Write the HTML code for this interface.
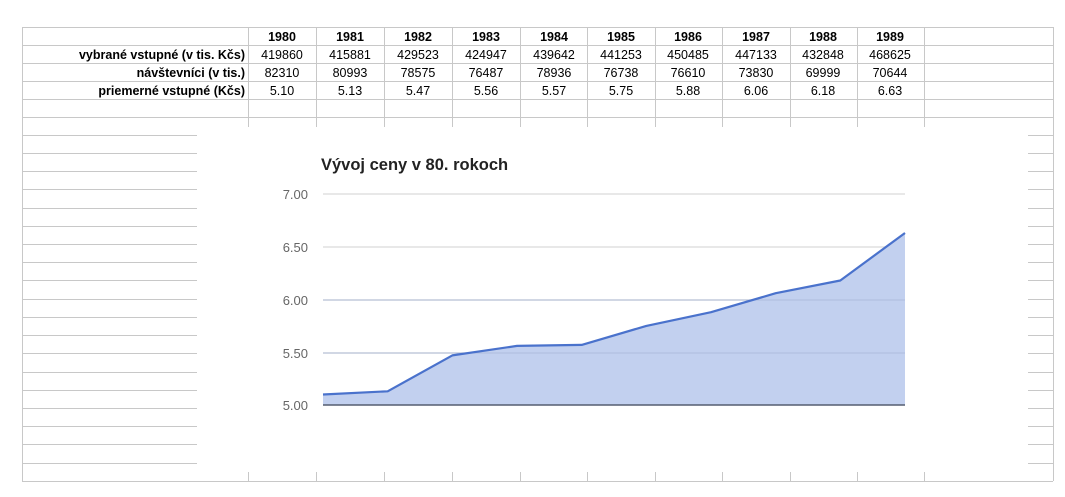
<!DOCTYPE html>
<html><head><meta charset="utf-8"><style>
html,body{margin:0;padding:0;background:#fff;}
svg{display:block;font-family:"Liberation Sans",Arial,sans-serif;}
</style></head><body>
<svg width="1065" height="497" viewBox="0 0 1065 497" xmlns="http://www.w3.org/2000/svg">
<g stroke="#c8c8c8" stroke-width="1" shape-rendering="crispEdges">
<!-- table rows full width -->
<line x1="22" y1="27.5" x2="1053" y2="27.5"/>
<line x1="22" y1="45.5" x2="1053" y2="45.5"/>
<line x1="22" y1="63.5" x2="1053" y2="63.5"/>
<line x1="22" y1="81.5" x2="1053" y2="81.5"/>
<line x1="22" y1="99.5" x2="1053" y2="99.5"/>
<line x1="22" y1="117.5" x2="1053" y2="117.5"/>
<!-- verticals -->
<line x1="22.5" y1="27" x2="22.5" y2="481"/>
<line x1="1053.5" y1="27" x2="1053.5" y2="481"/>
<line x1="248.5" y1="27" x2="248.5" y2="127"/>
<line x1="316.5" y1="27" x2="316.5" y2="127"/>
<line x1="384.5" y1="27" x2="384.5" y2="127"/>
<line x1="452.5" y1="27" x2="452.5" y2="127"/>
<line x1="520.5" y1="27" x2="520.5" y2="127"/>
<line x1="587.5" y1="27" x2="587.5" y2="127"/>
<line x1="655.5" y1="27" x2="655.5" y2="127"/>
<line x1="722.5" y1="27" x2="722.5" y2="127"/>
<line x1="790.5" y1="27" x2="790.5" y2="127"/>
<line x1="857.5" y1="27" x2="857.5" y2="127"/>
<line x1="924.5" y1="27" x2="924.5" y2="127"/>
<line x1="248.5" y1="472" x2="248.5" y2="481"/>
<line x1="316.5" y1="472" x2="316.5" y2="481"/>
<line x1="384.5" y1="472" x2="384.5" y2="481"/>
<line x1="452.5" y1="472" x2="452.5" y2="481"/>
<line x1="520.5" y1="472" x2="520.5" y2="481"/>
<line x1="587.5" y1="472" x2="587.5" y2="481"/>
<line x1="655.5" y1="472" x2="655.5" y2="481"/>
<line x1="722.5" y1="472" x2="722.5" y2="481"/>
<line x1="790.5" y1="472" x2="790.5" y2="481"/>
<line x1="857.5" y1="472" x2="857.5" y2="481"/>
<line x1="924.5" y1="472" x2="924.5" y2="481"/>
<line x1="22" y1="481.5" x2="1053" y2="481.5"/>
<!-- side stubs -->
<path d="M22 135.5H197M22 153.5H197M22 171.5H197M22 189.5H197M22 208.5H197M22 226.5H197M22 244.5H197M22 262.5H197M22 280.5H197M22 299.5H197M22 317.5H197M22 335.5H197M22 353.5H197M22 372.5H197M22 390.5H197M22 408.5H197M22 426.5H197M22 444.5H197M22 463.5H197"/>
<path d="M1028 135.5H1053M1028 153.5H1053M1028 171.5H1053M1028 189.5H1053M1028 208.5H1053M1028 226.5H1053M1028 244.5H1053M1028 262.5H1053M1028 280.5H1053M1028 299.5H1053M1028 317.5H1053M1028 335.5H1053M1028 353.5H1053M1028 372.5H1053M1028 390.5H1053M1028 408.5H1053M1028 426.5H1053M1028 444.5H1053M1028 463.5H1053"/>
</g>
<!-- table text -->
<g font-size="12.5" fill="#000" text-anchor="middle">
<g font-weight="bold">
<text x="282" y="41">1980</text><text x="350" y="41">1981</text><text x="418" y="41">1982</text><text x="486" y="41">1983</text><text x="554" y="41">1984</text><text x="621" y="41">1985</text><text x="688" y="41">1986</text><text x="756" y="41">1987</text><text x="823" y="41">1988</text><text x="890" y="41">1989</text>
</g>
<text x="282" y="59">419860</text><text x="350" y="59">415881</text><text x="418" y="59">429523</text><text x="486" y="59">424947</text><text x="554" y="59">439642</text><text x="621" y="59">441253</text><text x="688" y="59">450485</text><text x="756" y="59">447133</text><text x="823" y="59">432848</text><text x="890" y="59">468625</text>
<text x="282" y="77">82310</text><text x="350" y="77">80993</text><text x="418" y="77">78575</text><text x="486" y="77">76487</text><text x="554" y="77">78936</text><text x="621" y="77">76738</text><text x="688" y="77">76610</text><text x="756" y="77">73830</text><text x="823" y="77">69999</text><text x="890" y="77">70644</text>
<text x="282" y="95">5.10</text><text x="350" y="95">5.13</text><text x="418" y="95">5.47</text><text x="486" y="95">5.56</text><text x="554" y="95">5.57</text><text x="621" y="95">5.75</text><text x="688" y="95">5.88</text><text x="756" y="95">6.06</text><text x="823" y="95">6.18</text><text x="890" y="95">6.63</text>
<g font-weight="bold" text-anchor="end">
<text x="245" y="59">vybrané vstupné (v tis. Kčs)</text>
<text x="245" y="77">návštevníci (v tis.)</text>
<text x="245" y="95">priemerné vstupné (Kčs)</text>
</g>
</g>
<!-- chart -->
<text x="321" y="170" font-size="16.5" font-weight="bold" fill="#222">Vývoj ceny v 80. rokoch</text>
<g stroke="#e0e0e0" stroke-width="1.5">
<line x1="323" y1="194" x2="905" y2="194"/>
<line x1="323" y1="247" x2="905" y2="247"/>
<line x1="323" y1="300" x2="905" y2="300"/>
<line x1="323" y1="353" x2="905" y2="353"/>
</g>
<g font-size="13" fill="#666" text-anchor="end">
<text x="308" y="199">7.00</text>
<text x="308" y="252">6.50</text>
<text x="308" y="305">6.00</text>
<text x="308" y="358">5.50</text>
<text x="308" y="410">5.00</text>
</g>
<polygon fill="#c2d0ef" points="323,394.5 387.7,391.3 452.3,355.4 517,345.9 581.7,344.9 646.3,325.9 711,312.2 775.7,293.2 840.3,280.5 905,233 905,405 323,405"/>
<g stroke="#a9b8d8" stroke-width="1" opacity="0.8">
<line x1="323" y1="300" x2="905" y2="300"/>
<line x1="323" y1="353" x2="905" y2="353"/>
</g>
<line x1="323" y1="405" x2="905" y2="405" stroke="#555d70" stroke-width="1.5"/>
<polyline fill="none" stroke="#4a72cc" stroke-width="2.2" stroke-linejoin="round" points="323,394.5 387.7,391.3 452.3,355.4 517,345.9 581.7,344.9 646.3,325.9 711,312.2 775.7,293.2 840.3,280.5 905,233"/>
</svg>
</body></html>
